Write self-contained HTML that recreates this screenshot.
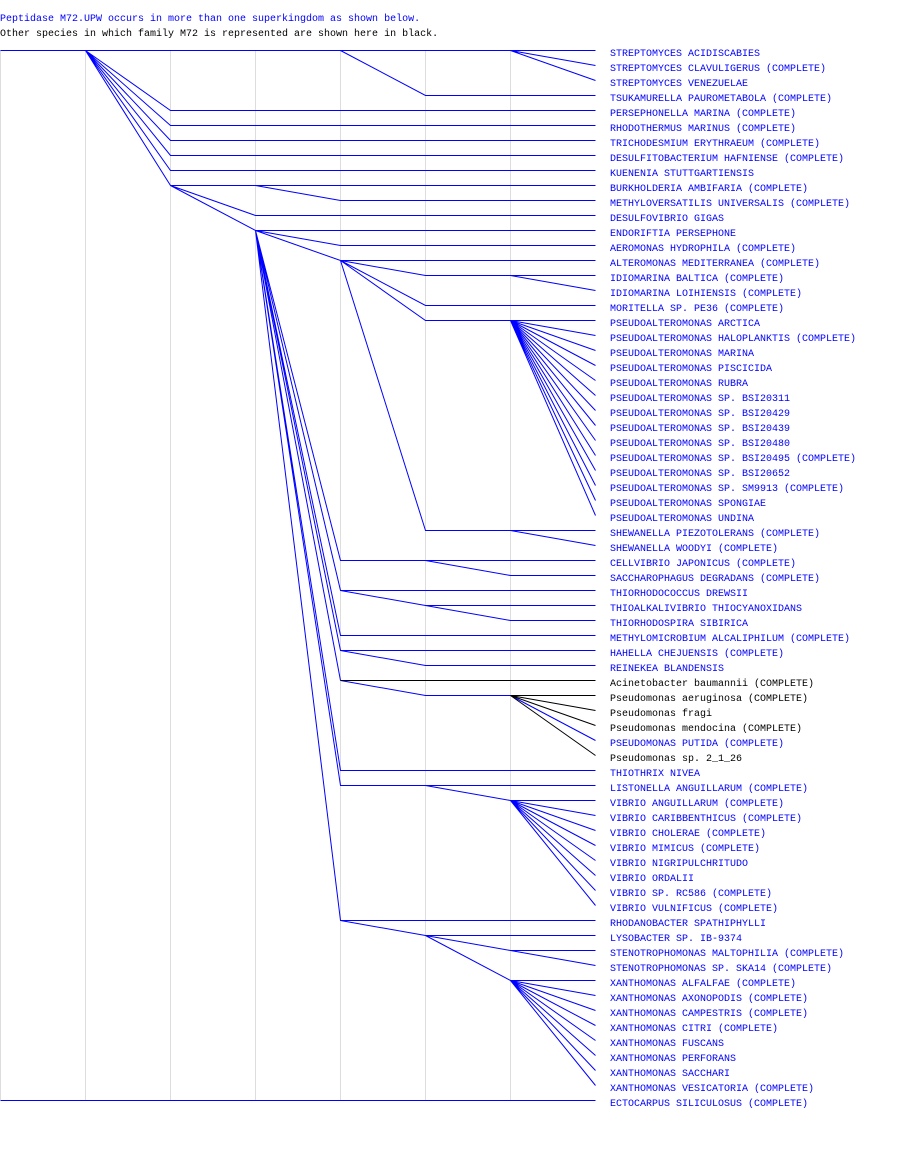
<!DOCTYPE html>
<html><head><meta charset="utf-8"><style>
html,body{margin:0;padding:0;background:#fff;width:900px;height:1165px;overflow:hidden}
svg{display:block}
text{font-family:"Liberation Mono","DejaVu Sans Mono",monospace;font-size:10px}
</style></head><body>
<svg width="900" height="1165" xmlns="http://www.w3.org/2000/svg">
<text x="0" y="21" fill="#0000ff">Peptidase M72.UPW occurs in more than one superkingdom as shown below.</text>
<text x="0" y="36" fill="#000">Other species in which family M72 is represented are shown here in black.</text>
<g stroke="#dddddd" stroke-width="1">
<line x1="0.5" y1="50" x2="0.5" y2="1100"/><line x1="85.5" y1="50" x2="85.5" y2="1100"/><line x1="170.5" y1="50" x2="170.5" y2="1100"/><line x1="255.5" y1="50" x2="255.5" y2="1100"/><line x1="340.5" y1="50" x2="340.5" y2="1100"/><line x1="425.5" y1="50" x2="425.5" y2="1100"/><line x1="510.5" y1="50" x2="510.5" y2="1100"/>
</g>
<g stroke="#0000ff" stroke-width="1" fill="none" transform="translate(0.5,0.5)">
<path d="M0 50H595M510 50L595 65M510 50L595 80M340 50L425 95H595
M85 50L170 110H595M85 50L170 125H595M85 50L170 140H595M85 50L170 155H595M85 50L170 170H595M85 50L170 185H595
M255 185L340 200H595M170 185L255 215H595M170 185L255 230H595
M255 230L340 245H595M255 230L340 260H595
M340 260L425 275H595M510 275L595 290M340 260L425 305H595M340 260L425 320H595
M510 320L595 335M510 320L595 350M510 320L595 365M510 320L595 380M510 320L595 395M510 320L595 410M510 320L595 425M510 320L595 440M510 320L595 455M510 320L595 470M510 320L595 485M510 320L595 500M510 320L595 515
M340 260L425 530H595M510 530L595 545
M255 230L340 560H595M425 560L510 575H595
M255 230L340 590H595M340 590L425 605H595M425 605L510 620H595
M255 230L340 635H595M255 230L340 650H595M340 650L425 665H595
M255 230L340 680M340 680L425 695H510M510 695L595 740
M255 230L340 770H595M255 230L340 785H595M425 785L510 800H595
M510 800L595 815M510 800L595 830M510 800L595 845M510 800L595 860M510 800L595 875M510 800L595 890M510 800L595 905
M255 230L340 920H595M340 920L425 935H595M425 935L510 950H595M510 950L595 965M425 935L510 980H595
M510 980L595 995M510 980L595 1010M510 980L595 1025M510 980L595 1040M510 980L595 1055M510 980L595 1070M510 980L595 1085
M0 1100H595"/>
</g>
<g stroke="#000" stroke-width="1" fill="none" transform="translate(0.5,0.5)">
<path d="M340 680H595M510 695H595M510 695L595 710M510 695L595 725M510 695L595 755"/>
</g>
<g fill="#0000ff">
<text x="610" y="56">STREPTOMYCES ACIDISCABIES</text>
<text x="610" y="71">STREPTOMYCES CLAVULIGERUS (COMPLETE)</text>
<text x="610" y="86">STREPTOMYCES VENEZUELAE</text>
<text x="610" y="101">TSUKAMURELLA PAUROMETABOLA (COMPLETE)</text>
<text x="610" y="116">PERSEPHONELLA MARINA (COMPLETE)</text>
<text x="610" y="131">RHODOTHERMUS MARINUS (COMPLETE)</text>
<text x="610" y="146">TRICHODESMIUM ERYTHRAEUM (COMPLETE)</text>
<text x="610" y="161">DESULFITOBACTERIUM HAFNIENSE (COMPLETE)</text>
<text x="610" y="176">KUENENIA STUTTGARTIENSIS</text>
<text x="610" y="191">BURKHOLDERIA AMBIFARIA (COMPLETE)</text>
<text x="610" y="206">METHYLOVERSATILIS UNIVERSALIS (COMPLETE)</text>
<text x="610" y="221">DESULFOVIBRIO GIGAS</text>
<text x="610" y="236">ENDORIFTIA PERSEPHONE</text>
<text x="610" y="251">AEROMONAS HYDROPHILA (COMPLETE)</text>
<text x="610" y="266">ALTEROMONAS MEDITERRANEA (COMPLETE)</text>
<text x="610" y="281">IDIOMARINA BALTICA (COMPLETE)</text>
<text x="610" y="296">IDIOMARINA LOIHIENSIS (COMPLETE)</text>
<text x="610" y="311">MORITELLA SP. PE36 (COMPLETE)</text>
<text x="610" y="326">PSEUDOALTEROMONAS ARCTICA</text>
<text x="610" y="341">PSEUDOALTEROMONAS HALOPLANKTIS (COMPLETE)</text>
<text x="610" y="356">PSEUDOALTEROMONAS MARINA</text>
<text x="610" y="371">PSEUDOALTEROMONAS PISCICIDA</text>
<text x="610" y="386">PSEUDOALTEROMONAS RUBRA</text>
<text x="610" y="401">PSEUDOALTEROMONAS SP. BSI20311</text>
<text x="610" y="416">PSEUDOALTEROMONAS SP. BSI20429</text>
<text x="610" y="431">PSEUDOALTEROMONAS SP. BSI20439</text>
<text x="610" y="446">PSEUDOALTEROMONAS SP. BSI20480</text>
<text x="610" y="461">PSEUDOALTEROMONAS SP. BSI20495 (COMPLETE)</text>
<text x="610" y="476">PSEUDOALTEROMONAS SP. BSI20652</text>
<text x="610" y="491">PSEUDOALTEROMONAS SP. SM9913 (COMPLETE)</text>
<text x="610" y="506">PSEUDOALTEROMONAS SPONGIAE</text>
<text x="610" y="521">PSEUDOALTEROMONAS UNDINA</text>
<text x="610" y="536">SHEWANELLA PIEZOTOLERANS (COMPLETE)</text>
<text x="610" y="551">SHEWANELLA WOODYI (COMPLETE)</text>
<text x="610" y="566">CELLVIBRIO JAPONICUS (COMPLETE)</text>
<text x="610" y="581">SACCHAROPHAGUS DEGRADANS (COMPLETE)</text>
<text x="610" y="596">THIORHODOCOCCUS DREWSII</text>
<text x="610" y="611">THIOALKALIVIBRIO THIOCYANOXIDANS</text>
<text x="610" y="626">THIORHODOSPIRA SIBIRICA</text>
<text x="610" y="641">METHYLOMICROBIUM ALCALIPHILUM (COMPLETE)</text>
<text x="610" y="656">HAHELLA CHEJUENSIS (COMPLETE)</text>
<text x="610" y="671">REINEKEA BLANDENSIS</text>
<text x="610" y="686" fill="#000">Acinetobacter baumannii (COMPLETE)</text>
<text x="610" y="701" fill="#000">Pseudomonas aeruginosa (COMPLETE)</text>
<text x="610" y="716" fill="#000">Pseudomonas fragi</text>
<text x="610" y="731" fill="#000">Pseudomonas mendocina (COMPLETE)</text>
<text x="610" y="746">PSEUDOMONAS PUTIDA (COMPLETE)</text>
<text x="610" y="761" fill="#000">Pseudomonas sp. 2_1_26</text>
<text x="610" y="776">THIOTHRIX NIVEA</text>
<text x="610" y="791">LISTONELLA ANGUILLARUM (COMPLETE)</text>
<text x="610" y="806">VIBRIO ANGUILLARUM (COMPLETE)</text>
<text x="610" y="821">VIBRIO CARIBBENTHICUS (COMPLETE)</text>
<text x="610" y="836">VIBRIO CHOLERAE (COMPLETE)</text>
<text x="610" y="851">VIBRIO MIMICUS (COMPLETE)</text>
<text x="610" y="866">VIBRIO NIGRIPULCHRITUDO</text>
<text x="610" y="881">VIBRIO ORDALII</text>
<text x="610" y="896">VIBRIO SP. RC586 (COMPLETE)</text>
<text x="610" y="911">VIBRIO VULNIFICUS (COMPLETE)</text>
<text x="610" y="926">RHODANOBACTER SPATHIPHYLLI</text>
<text x="610" y="941">LYSOBACTER SP. IB-9374</text>
<text x="610" y="956">STENOTROPHOMONAS MALTOPHILIA (COMPLETE)</text>
<text x="610" y="971">STENOTROPHOMONAS SP. SKA14 (COMPLETE)</text>
<text x="610" y="986">XANTHOMONAS ALFALFAE (COMPLETE)</text>
<text x="610" y="1001">XANTHOMONAS AXONOPODIS (COMPLETE)</text>
<text x="610" y="1016">XANTHOMONAS CAMPESTRIS (COMPLETE)</text>
<text x="610" y="1031">XANTHOMONAS CITRI (COMPLETE)</text>
<text x="610" y="1046">XANTHOMONAS FUSCANS</text>
<text x="610" y="1061">XANTHOMONAS PERFORANS</text>
<text x="610" y="1076">XANTHOMONAS SACCHARI</text>
<text x="610" y="1091">XANTHOMONAS VESICATORIA (COMPLETE)</text>
<text x="610" y="1106">ECTOCARPUS SILICULOSUS (COMPLETE)</text>
</g>
</svg>
</body></html>
